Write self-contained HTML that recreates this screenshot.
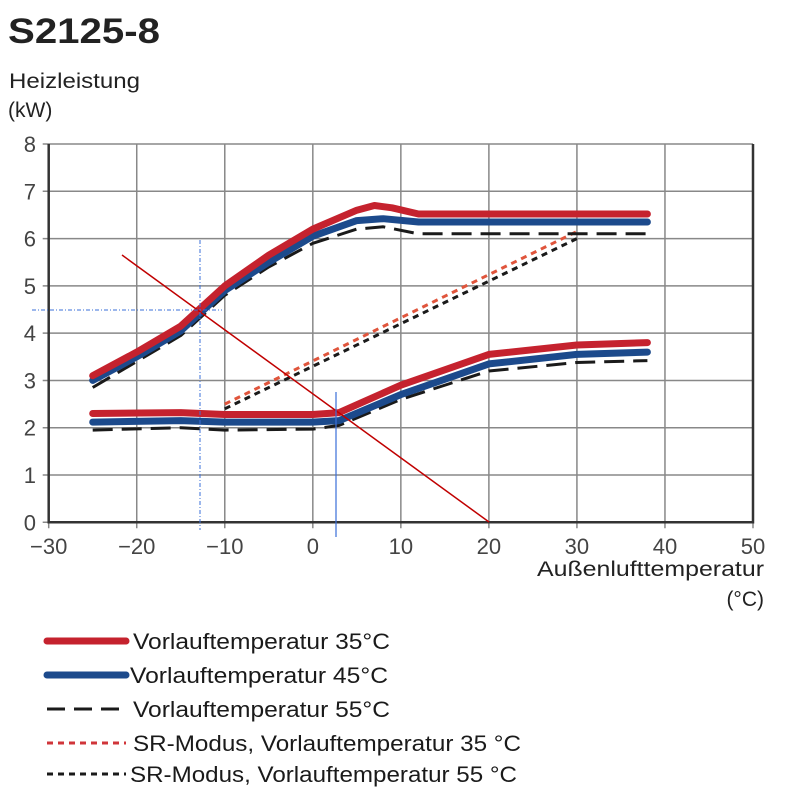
<!DOCTYPE html>
<html><head><meta charset="utf-8"><style>
html,body{margin:0;padding:0;background:#fff;}
svg{display:block;font-family:"Liberation Sans",sans-serif;}
</style></head><body>
<svg id="chart" width="790" height="803" viewBox="0 0 790 803">
<text x="8" y="43" font-size="35" font-weight="bold" fill="#222" textLength="152" lengthAdjust="spacingAndGlyphs">S2125-8</text>
<text x="9" y="88" font-size="21" fill="#222" textLength="131" lengthAdjust="spacingAndGlyphs">Heizleistung</text>
<text x="8" y="117" font-size="21" fill="#222">(kW)</text>
<g id="grid"></g>
<g id="series"></g>
<g id="overlay"></g>
<text x="764" y="576" font-size="21" fill="#222" text-anchor="end" textLength="227" lengthAdjust="spacingAndGlyphs">Außenlufttemperatur</text>
<text x="764" y="606" font-size="21" fill="#222" text-anchor="end">(°C)</text>
<g id="legend"></g>
</svg>
<script>
const xTicks=[-30,-20,-10,0,10,20,30,40,50];
const yTicks=[0,1,2,3,4,5,6,7,8];
const hp35UpperX=[-25,-20,-15,-10,-5,0,5,7,9,12,38];
const hp35UpperY=[3.1,3.6,4.15,5.0,5.65,6.2,6.6,6.7,6.65,6.52,6.52];
const hp45UpperX=[-25,-20,-15,-10,-5,0,5,8,12,38];
const hp45UpperY=[3.0,3.5,4.05,4.9,5.5,6.05,6.38,6.42,6.35,6.35];
const hp55UpperX=[-25,-20,-15,-10,-5,0,5,8,12,38];
const hp55UpperY=[2.85,3.4,3.95,4.8,5.4,5.9,6.2,6.25,6.1,6.1];
const hp35LowerX=[-25,-15,-10,0,3,10,20,30,38];
const hp35LowerY=[2.3,2.32,2.28,2.28,2.32,2.9,3.55,3.75,3.8];
const hp45LowerX=[-25,-15,-10,0,3,10,20,30,38];
const hp45LowerY=[2.12,2.15,2.12,2.12,2.15,2.7,3.35,3.55,3.6];
const hp55LowerX=[-25,-15,-10,0,3,10,20,30,38];
const hp55LowerY=[1.95,2.0,1.95,1.97,2.05,2.6,3.2,3.38,3.42];
const sr35X=[-10,30];
const sr35Y=[2.5,6.15];
const sr55X=[-10,30];
const sr55Y=[2.4,6.0];

const NS="http://www.w3.org/2000/svg";
const X0=48.7,X1=753,Y0=522.3,Y1=144;
function sx(v){return X0+(v-(-30))*(X1-X0)/80;}
function sy(v){return Y0-v*(Y0-Y1)/8;}
function mk(tag,attrs,parent){const e=document.createElementNS(NS,tag);for(const k in attrs)e.setAttribute(k,attrs[k]);parent.appendChild(e);return e;}
const grid=document.getElementById('grid');
xTicks.forEach(t=>{
  const l=mk('line',{x1:sx(t),x2:sx(t),y1:Y1,y2:Y0+6,stroke:'#888','stroke-width':1.5},grid);
  
  
  const tx=mk('text',{x:sx(t),y:554,'font-size':22,fill:'#444','text-anchor':'middle'},grid);
  tx.textContent=(t<0?'\u2212'+(-t):t);
  
  
});
yTicks.forEach(t=>{
  const l=mk('line',{x1:X0-6,x2:X1,y1:sy(t),y2:sy(t),stroke:'#888','stroke-width':1.5},grid);
  
  
  const tx=mk('text',{x:36,y:sy(t)+8,'font-size':22,fill:'#444','text-anchor':'end'},grid);
  tx.textContent=t;
  
  
});
const ax=mk('path',{d:`M${X0},${Y1}V${Y0}H${X1}V${Y1}`,fill:'none',stroke:'#333','stroke-width':2.5},grid);


const ser=document.getElementById('series');
function line(xs,ys,st,name){
  const pts=xs.map((x,i)=>sx(x).toFixed(1)+','+sy(ys[i]).toFixed(1)).join(' ');
  const p=mk('polyline',Object.assign({points:pts,fill:'none','stroke-linejoin':'round'},st),ser);
  
  
}
const sRed={stroke:'#c5222e','stroke-width':7,'stroke-linecap':'round'};
const sBlue={stroke:'#1c4a8c','stroke-width':7,'stroke-linecap':'round'};
const sDash={stroke:'#1a1a1a','stroke-width':3,'stroke-dasharray':'20,9'};
line(sr35X,sr35Y,{stroke:'#e0553c','stroke-width':3,'stroke-dasharray':'6,5'},'sr-35-line');
line(sr55X,sr55Y,{stroke:'#1a1a1a','stroke-width':3,'stroke-dasharray':'6,5'},'sr-55-line');
line(hp55UpperX,hp55UpperY,sDash,'flow-55-max-line');
line(hp55LowerX,hp55LowerY,sDash,'flow-55-min-line');
line(hp45UpperX,hp45UpperY,sBlue,'flow-45-max-line');
line(hp45LowerX,hp45LowerY,sBlue,'flow-45-min-line');
line(hp35UpperX,hp35UpperY,sRed,'flow-35-max-line');
line(hp35LowerX,hp35LowerY,sRed,'flow-35-min-line');
const ov=document.getElementById('overlay');
let o;
o=mk('line',{x1:122,y1:255,x2:489,y2:522,stroke:'#c00000','stroke-width':1.5},ov);

o=mk('line',{x1:200,y1:240,x2:200,y2:530,stroke:'#3a6fd8','stroke-width':1,'stroke-dasharray':'4,2,1,2'},ov);

o=mk('line',{x1:32,y1:310,x2:222,y2:310,stroke:'#3a6fd8','stroke-width':1,'stroke-dasharray':'4,2,1,2'},ov);

o=mk('line',{x1:336,y1:392,x2:336,y2:537,stroke:'#3a6fd8','stroke-width':1.2},ov);


const legLabels=['Vorlauftemperatur 35°C','Vorlauftemperatur 45°C','Vorlauftemperatur 55°C','SR-Modus, Vorlauftemperatur 35 °C','SR-Modus, Vorlauftemperatur 55 °C'];
const legStyles=[
 {stroke:'#c5222e','stroke-width':7,'stroke-linecap':'round'},
 {stroke:'#1c4a8c','stroke-width':7,'stroke-linecap':'round'},
 {stroke:'#1a1a1a','stroke-width':3,'stroke-dasharray':'18,9'},
 {stroke:'#d0353a','stroke-width':3,'stroke-dasharray':'6,5'},
 {stroke:'#1a1a1a','stroke-width':3,'stroke-dasharray':'6,5'}];
const legY=[641,675,709,743,774];
const legW=[257,258,257,388,387];
const legX=[133,130,133,133,130];
const lg=document.getElementById('legend');
legLabels.forEach((lab,i)=>{
  const g=mk('g',{},lg);
  
  
  const l=mk('line',Object.assign({x1:47,x2:126,y1:legY[i],y2:legY[i]},legStyles[i]),g);
  
  
  const t=mk('text',{x:legX[i],y:legY[i]+8,'font-size':22,fill:'#1a1a1a',textLength:legW[i],lengthAdjust:'spacingAndGlyphs'},g);
  t.textContent=lab;
  
  
});
</script>
</body></html>
